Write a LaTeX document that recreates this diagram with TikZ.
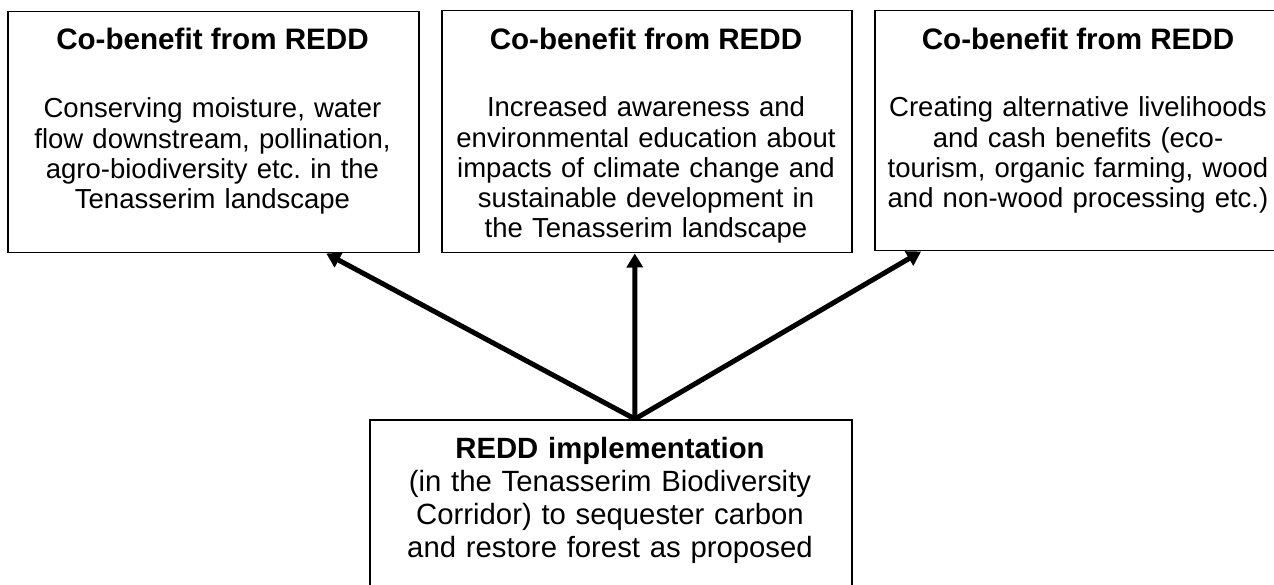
\documentclass[tikz,border=0pt]{standalone}
\usepackage{fontspec}
\setmainfont{Liberation Sans}
\usetikzlibrary{arrows.meta,calc}
\begin{document}
\begin{tikzpicture}[x=1pt,y=-1pt,
  box/.style={draw=black,line width=1.5pt,rectangle,inner sep=0pt,anchor=north west},
  head/.style={anchor=base,inner sep=0pt,font=\fontsize{29.6}{33}\selectfont\bfseries},
  body/.style={anchor=base,inner sep=0pt,text width=400pt,align=center,font=\fontsize{27.5}{30.2}\selectfont},
  bigbody/.style={anchor=base,inner sep=0pt,text width=470pt,align=center,font=\fontsize{29.3}{33.2}\selectfont},
  arr/.style={line width=5pt,-{Triangle[length=14pt,width=16pt]}}]
\useasboundingbox (0,0) rectangle (1274,585);
\begin{scope}
  \clip (0,0) rectangle (1274,585);
  % the three co-benefit boxes
  \node[box,minimum width=411pt,minimum height=241pt] (b1) at (7,11) {};
  \node[box,minimum width=410pt,minimum height=242pt] (b2) at (441,10) {};
  \node[box,minimum width=408pt,minimum height=240pt] (b3) at (874,10) {};
  % implementation box, running off the lower edge
  \node[box,minimum width=482pt,minimum height=200pt] (impl) at (369,419) {};
\end{scope}

% titles and texts
\node[head] (h1) at (212.5,50) {Co-benefit from REDD};
\node[body] (t1) at (212.5,118) {Conserving moisture, water\\flow downstream, pollination,\\agro-biodiversity etc.\ in the\\Tenasserim landscape};

\node[head] (h2) at (646,50) {Co-benefit from REDD};
\node[body] (t2) at (646,117) {Increased awareness and\\environmental education about\\impacts of climate change and\\sustainable development in\\the Tenasserim landscape};

\node[head] (h3) at (1078,50) {Co-benefit from REDD};
\node[body] (t3) at (1078,117) {Creating alternative livelihoods\\and cash benefits (eco-\\tourism, organic farming, wood\\and non-wood processing etc.)};

\node[bigbody] (t4) at (610,458) {\textbf{REDD implementation}\\(in the Tenasserim Biodiversity\\Corridor) to sequester carbon\\and restore forest as proposed};

% arrows from the implementation box to each co-benefit
\coordinate (hub) at ($(impl.north west)!0.55!(impl.north east)$);
\draw[arr] (hub) -- ($(b1.south west)!0.774!(b1.south east)$);
\draw[arr] (hub) -- ($(b2.south west)!0.471!(b2.south east)$);
\draw[arr] (hub) -- ($(b3.south west)!0.115!(b3.south east)$);
\end{tikzpicture}
\end{document}
